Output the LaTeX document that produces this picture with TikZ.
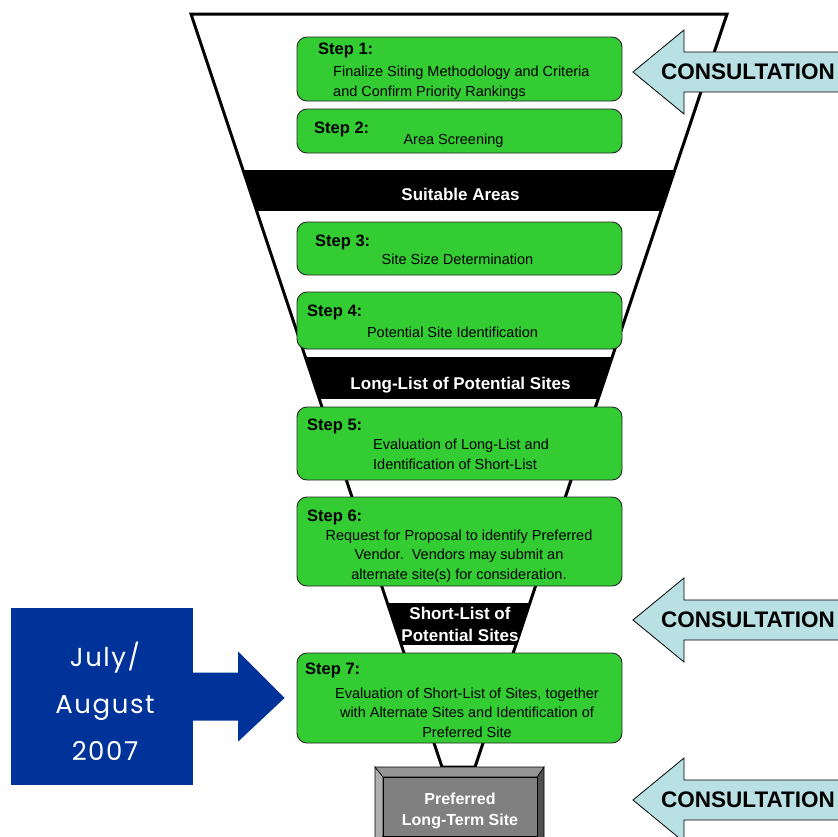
\documentclass[tikz,border=0pt]{standalone}
\usepackage{fontspec}
\setmainfont{Liberation Sans}
\newfontfamily\datefont[LetterSpace=6]{Poppins}
\usetikzlibrary{positioning, calc}

\definecolor{stepgreen}{HTML}{33CC33}
\definecolor{consultblue}{HTML}{B9E1E4}
\definecolor{datenavy}{HTML}{003399}
\definecolor{faceGray}{HTML}{808080}
\definecolor{topGray}{HTML}{959595}
\definecolor{leftGray}{HTML}{AFAFAF}
\definecolor{rightGray}{HTML}{4F4F4F}

\begin{document}
\begin{tikzpicture}[x=1pt, y=-1pt,
    stepbox/.style={draw=black!85, line width=0.9pt, fill=stepgreen, rounded corners=10pt, minimum width=325pt, inner sep=0pt},
    steplabel/.style={anchor=base west, inner sep=0pt, font=\fontsize{16.5}{19}\selectfont\bfseries},
    steptext/.style={inner sep=0pt, font=\fontsize{14.5}{19.5}\selectfont},
    bandtext/.style={anchor=base, inner sep=0pt, text=white, align=center, font=\fontsize{17}{21.5}\selectfont\bfseries},
    consult/.style={fill=consultblue, draw=black, line width=0.8pt},
    bevel/.style={draw=black, line width=0.6pt}]

    \useasboundingbox[fill=white] (0,0) rectangle (838,836);
    \clip (0,0) rectangle (838,836);

    % --- Funnel (white trapezoid with black bands) ---
    \coordinate (ftl) at (191,14);
    \coordinate (ftr) at (727,14);
    \coordinate (fbr) at (475,767);
    \coordinate (fbl) at (442,767);
    \fill[white] (ftl) -- (ftr) -- (fbr) -- (fbl) -- cycle;
    \begin{scope}
      \clip (ftl) -- (ftr) -- (fbr) -- (fbl) -- cycle;
      \foreach \ya/\yb in {170/211, 357/399, 603/645} {
        \fill[black] (150,\ya) rectangle (750,\yb);
      }
    \end{scope}
    \draw[line width=3pt, line join=miter] (ftl) -- (ftr) -- (fbr) -- (fbl) -- cycle;

    % band labels (base = last line)
    \node[bandtext] (suitable) at (460.5,200) {Suitable Areas};
    \node[bandtext] (longlist) at (460.5,389) {Long-List of Potential Sites};
    \node[bandtext] (shortlist) at (460,641) {Short-List of\\Potential Sites};

    % --- Step boxes ---
    \foreach \n/\yc/\h in {1/69/64, 2/131/44, 3/248.5/53, 4/320.5/57, 5/443.5/73, 6/541.5/89, 7/698/90} {
      \node[stepbox, minimum height=\h pt] (step\n) at (459.5,\yc) {};
    }
    \foreach \n/\xl/\yb in {1/318/54, 2/314/133, 3/315/246, 4/307/316, 5/307/430, 6/307/521, 7/305/674} {
      \node[steplabel] (lab\n) at (\xl,\yb) {Step \n:};
    }

    % step descriptions
    \node[steptext, anchor=base west, align=left] (desc1) at (333,96) {Finalize Siting Methodology and Criteria\\and Confirm Priority Rankings};
    \node[steptext, anchor=base] (desc2) at (453.5,144) {Area Screening};
    \node[steptext, anchor=base] (desc3) at (457.5,264) {Site Size Determination};
    \node[steptext, anchor=base] (desc4) at (452.5,337) {Potential Site Identification};
    \node[steptext, anchor=base west, align=left] (desc5) at (373,469) {Evaluation of Long-List and\\Identification of Short-List};
    \node[steptext, anchor=base, align=center] (desc6) at (459,579) {Request for Proposal to identify Preferred\\Vendor.\ \ Vendors may submit an\\alternate site(s) for consideration.};
    \node[steptext, anchor=base, align=center] (desc7) at (467,737) {Evaluation of Short-List of Sites, together\\with Alternate Sites and Identification of\\Preferred Site};

    % --- Preferred site (bevelled grey box) ---
    \fill[bevel, fill=leftGray] (375,767) -- (383,777) -- (383,836) -- (375,846) -- cycle;
    \fill[bevel, fill=rightGray] (544,767) -- (537,777) -- (537,836) -- (544,846) -- cycle;
    \fill[bevel, fill=topGray] (375,767) -- (544,767) -- (537,777) -- (383,777) -- cycle;
    \node[bevel, fill=faceGray, minimum width=154pt, minimum height=59pt, inner sep=0pt] (preferred) at (460,806.5) {};
    \node[bandtext, font=\fontsize{16}{21}\selectfont\bfseries] (preftext) at (460,825) {Preferred\\Long-Term Site};

    % --- Consultation arrows ---
    \foreach \yc in {72, 620, 800} {
      \draw[consult] (633,\yc) -- (684,\yc-42) -- (684,\yc-20) -- (850,\yc-20)
        -- (850,\yc+20) -- (684,\yc+20) -- (684,\yc+42) -- cycle;
      \node[anchor=base west, inner sep=0pt, font=\fontsize{22.5}{26}\selectfont\bfseries] (consult\yc) at (661,\yc+7.5) {CONSULTATION};
    }

    % --- Date box and arrow to Step 7 ---
    \node[fill=datenavy, minimum width=182pt, minimum height=177pt, inner sep=0pt] (date) at (102,696.5) {};
    \node[anchor=base, inner sep=0pt, text=white, align=center, font=\datefont\fontsize{26}{47}\selectfont] (datetext) at (105,760) {July/\\August\\2007};
    \fill[datenavy] (date.east) ++(0,-24) -- ++(45,0) -- ++(0,-21) -- ($(step7.west)+(-12,0)$)
      -- ($(date.east)+(45,45)$) -- ++(0,-21) -- ($(date.east)+(0,24)$) -- cycle;

\end{tikzpicture}
\end{document}
